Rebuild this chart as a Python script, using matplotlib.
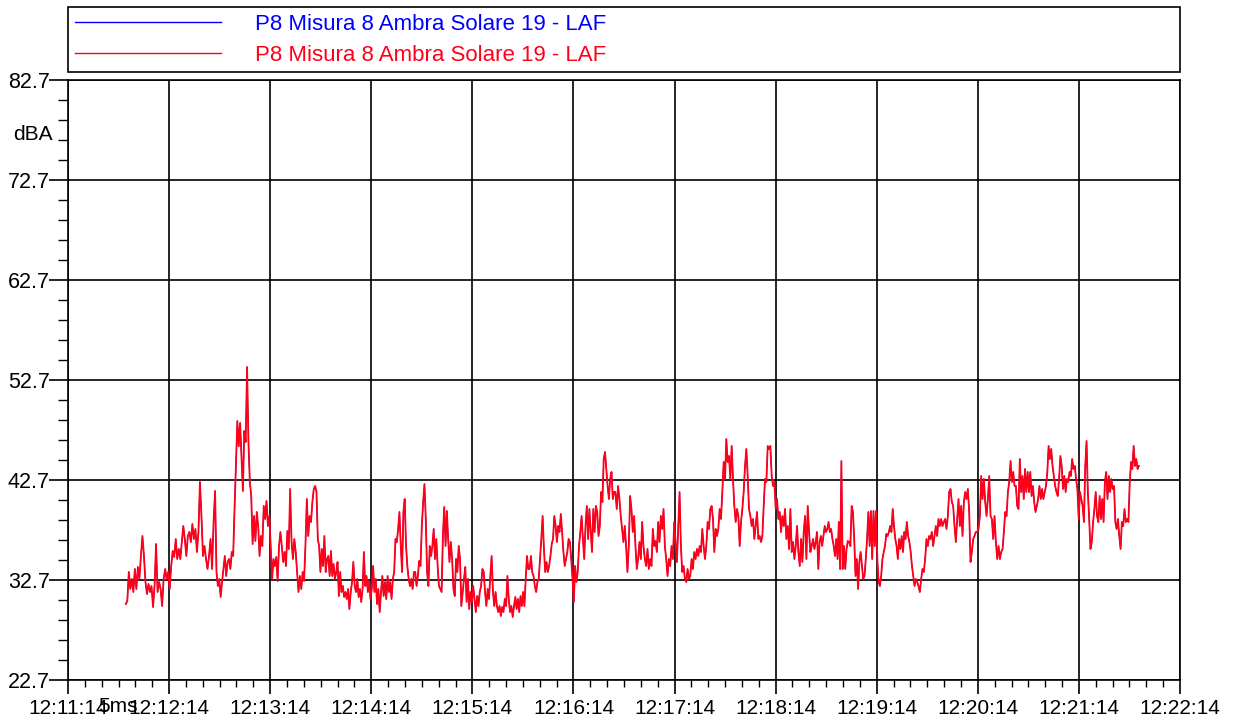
import numpy as np
import pandas as pd
import matplotlib
matplotlib.use("Agg")
import matplotlib.pyplot as plt
import matplotlib.dates as mdates
from matplotlib.ticker import MultipleLocator, FixedLocator

plt.rcParams["font.family"] = ["Liberation Sans", "DejaVu Sans"]

# region Data: LAF level (dBA), one minute-ish segment at a time
day = "2023-06-01 "
seg_edges = ["12:11:48.3", "12:12:41.3", "12:13:40.7", "12:14:40.1", "12:15:39.5",
             "12:16:38.9", "12:17:38.4", "12:18:37.8", "12:19:37.2", "12:20:36.6",
             "12:21:49.6"]

seg_a = [30.3, 30.6, 33.5, 31.8, 32.8, 31.5, 33.8, 31.8, 34.0, 32.8, 35.1, 37.1, 35.1, 32.5,
         31.3, 32.3, 31.5, 32.1, 30.0, 32.1, 36.3, 31.5, 32.5, 31.8, 30.1, 32.8, 33.8, 32.8,
         33.5, 31.8, 34.1, 35.6, 35.0, 36.8, 34.8, 35.8, 34.8, 36.5, 38.1, 36.8, 35.1, 37.1,
         37.5, 36.5, 38.3, 36.8, 37.8, 35.5, 37.5, 42.5, 39.1, 35.1, 36.1, 34.8, 33.8, 35.1,
         36.8, 33.8, 38.5]
seg_b = [41.6, 33.5, 32.1, 32.8, 31.0, 32.5, 33.8, 35.1, 33.1, 34.5, 34.8, 33.8, 35.5, 35.1,
         39.8, 44.1, 48.6, 46.1, 48.4, 45.1, 41.6, 47.6, 46.5, 54.0, 46.5, 42.5, 41.1, 36.3,
         39.1, 36.6, 39.5, 38.1, 35.1, 37.1, 36.1, 40.1, 38.8, 40.6, 38.1, 39.1, 36.1, 32.8,
         34.8, 34.1, 35.0, 32.6, 36.1, 37.5, 36.1, 34.5, 35.5, 34.1, 37.6, 35.8, 41.8, 36.6,
         34.8, 36.8, 35.5, 33.5, 31.5, 33.1, 31.8, 33.5, 32.6, 36.1, 40.8, 37.1, 39.1, 38.5,
         40.5, 41.8]
seg_c = [42.1, 41.5, 36.8, 36.1, 33.5, 35.8, 34.1, 37.1, 33.5, 34.8, 35.1, 33.1, 35.6, 33.1,
         34.3, 32.8, 33.5, 34.5, 31.1, 33.5, 31.5, 32.1, 31.0, 31.5, 30.8, 31.8, 29.8, 31.5,
         32.5, 34.5, 32.1, 31.5, 32.8, 31.0, 31.8, 30.5, 31.8, 35.5, 32.1, 33.1, 31.5, 32.6,
         30.8, 31.8, 34.1, 31.5, 32.8, 30.3, 31.8, 29.5, 31.5, 33.1, 31.1, 32.5, 30.8, 33.1,
         31.5, 32.5, 30.8, 32.8, 33.5, 36.8, 36.5, 37.8, 39.5, 36.1, 33.5, 39.5, 40.8, 36.1,
         34.1, 32.8, 32.1, 32.8, 31.8, 33.5]
seg_d = [33.5, 32.1, 33.1, 34.6, 34.1, 38.1, 40.5, 42.3, 38.8, 33.5, 32.1, 36.1, 35.1, 36.1,
         37.8, 34.8, 36.8, 34.1, 32.1, 31.8, 31.5, 37.1, 40.0, 36.1, 39.6, 36.8, 34.5, 36.5,
         34.8, 31.8, 31.1, 34.8, 33.5, 36.1, 34.8, 30.1, 31.5, 32.8, 34.0, 30.5, 32.8, 29.8,
         31.5, 30.5, 32.1, 30.8, 29.5, 31.1, 30.1, 31.5, 32.1, 33.8, 33.5, 31.5, 30.1, 31.8,
         30.8, 33.1, 35.1, 31.5, 30.1, 31.5, 30.1, 29.5, 30.1, 29.1, 30.0, 29.5, 30.8, 30.1,
         33.1, 30.8, 29.5, 30.1, 29.0, 30.1]
seg_e = [31.0, 29.8, 30.8, 29.5, 31.1, 30.1, 31.5, 30.1, 32.8, 35.1, 33.8, 33.8, 35.1, 33.5,
         33.1, 32.1, 31.5, 32.5, 32.8, 34.8, 36.8, 39.1, 35.8, 33.5, 34.5, 33.5, 34.1, 35.1,
         36.3, 36.8, 39.1, 38.1, 36.5, 38.1, 37.5, 39.3, 37.5, 35.5, 34.1, 34.8, 35.5, 36.8,
         36.5, 34.8, 32.8, 30.5, 34.1, 32.5, 33.5, 36.1, 37.5, 39.1, 36.8, 34.8, 38.1, 40.1,
         36.8, 39.8, 37.5, 35.5, 39.8, 37.5, 40.1, 39.5, 37.1, 38.1, 41.5, 40.5, 44.8, 45.5,
         43.8, 42.1, 40.8, 42.8, 43.5, 40.8, 41.5]
seg_f = [41.5, 39.8, 42.1, 40.8, 39.1, 37.8, 36.5, 38.1, 36.1, 33.5, 36.1, 41.1, 39.8, 37.5,
         39.1, 36.1, 33.8, 34.8, 36.5, 34.8, 38.5, 36.1, 34.8, 34.1, 35.8, 33.8, 34.8, 34.1,
         37.8, 36.1, 36.6, 35.5, 38.5, 36.5, 39.1, 37.8, 39.8, 36.1, 34.8, 33.1, 34.8, 34.1,
         36.1, 34.8, 38.5, 36.5, 34.5, 38.1, 41.5, 36.1, 33.5, 34.1, 32.8, 32.5, 33.8, 32.8,
         33.1, 34.8, 33.8, 35.5, 34.8, 35.8, 35.1, 36.1, 35.5, 37.8, 36.1, 34.8, 36.1, 38.5,
         37.8, 39.8, 40.1, 38.8, 35.5]
seg_g = [37.8, 37.1, 37.8, 39.8, 38.8, 41.5, 44.5, 42.8, 46.8, 44.5, 45.1, 42.8, 46.1, 42.8,
         40.1, 38.5, 39.8, 39.1, 36.1, 38.5, 39.8, 41.5, 44.1, 45.8, 43.1, 39.8, 39.1, 38.1,
         38.8, 36.8, 38.1, 39.5, 36.8, 37.1, 36.5, 37.1, 40.1, 42.8, 42.5, 46.1, 45.8, 46.1,
         43.1, 42.1, 42.5, 39.8, 40.8, 38.8, 39.5, 37.5, 39.1, 38.1, 39.8, 36.8, 38.1, 35.8,
         39.8, 35.5, 36.5, 34.8, 36.1, 38.1, 35.5, 34.1, 36.8, 34.5, 37.5, 39.1, 34.8, 40.1,
         37.5, 35.5, 36.1, 36.8, 35.8]
seg_h = [36.5, 37.5, 33.8, 36.5, 37.1, 36.1, 37.1, 38.1, 37.5, 37.8, 38.5, 37.5, 37.8, 36.8,
         36.1, 35.1, 36.8, 34.8, 38.5, 33.8, 44.6, 33.8, 36.1, 33.8, 35.8, 36.6, 36.5, 36.1,
         40.1, 39.5, 36.8, 33.1, 34.8, 31.8, 34.5, 35.5, 34.1, 32.8, 33.1, 34.8, 36.8, 39.5,
         36.1, 39.6, 34.8, 39.6, 36.1, 39.6, 34.8, 32.5, 32.1, 33.1, 34.8, 35.5, 36.1, 37.3,
         37.1, 37.5, 38.1, 37.5, 39.8, 38.1, 36.8, 36.1, 34.8, 36.8, 35.8, 37.1, 35.5, 37.5,
         36.8, 38.5, 37.1, 36.5, 35.5, 34.1, 33.1, 32.1]
seg_i = [32.8, 32.5, 32.1, 31.5, 32.8, 33.8, 33.5, 34.8, 36.8, 36.1, 37.1, 36.8, 37.5, 36.1,
         37.1, 38.1, 37.1, 38.8, 38.1, 38.8, 38.1, 38.5, 38.8, 37.8, 39.1, 41.5, 41.8, 40.5,
         40.1, 38.1, 36.5, 38.8, 40.8, 38.1, 40.1, 37.1, 40.5, 41.5, 40.8, 41.8, 39.5, 34.5,
         35.5, 36.8, 37.1, 37.5, 37.5, 37.8, 39.1, 43.1, 40.8, 42.8, 40.5, 39.1, 40.8, 43.1,
         39.1, 38.8, 36.8, 39.1, 36.5, 34.8, 36.1, 34.8, 35.5, 35.8, 37.5, 39.5, 39.1, 41.5,
         42.5, 44.6, 42.5, 43.5, 42.1]
seg_j = [42.1, 40.1, 39.8, 44.8, 41.5, 43.1, 40.8, 43.8, 41.5, 43.5, 41.5, 43.5, 41.1, 42.1,
         40.5, 39.5, 40.1, 40.8, 42.1, 40.8, 41.8, 40.8, 41.5, 42.1, 43.5, 46.1, 44.8, 45.8,
         44.1, 43.1, 42.1, 41.5, 41.1, 42.8, 45.1, 44.1, 41.8, 43.1, 41.5, 42.8, 42.5, 43.5,
         43.1, 44.8, 43.8, 44.1, 42.8, 41.8, 38.8, 41.5, 40.8, 40.1, 38.5, 44.1, 46.6, 41.5,
         38.8, 35.8, 36.5, 38.5, 39.8, 41.5, 39.1, 38.5, 41.1, 38.8, 40.8, 38.5, 42.5, 43.5,
         40.8, 43.1, 41.5, 42.8, 41.8, 42.1, 38.5, 37.8, 38.8, 37.1, 35.8, 38.5, 38.1, 39.8,
         38.5, 38.8, 38.5, 42.5, 44.5, 43.8, 46.1, 44.1, 44.8, 43.8, 44.1]

segments = [seg_a, seg_b, seg_c, seg_d, seg_e, seg_f, seg_g, seg_h, seg_i, seg_j]

x_start, x_end = "12:11:14", "12:22:14"
y_ticks = [22.7, 32.7, 42.7, 52.7, 62.7, 72.7, 82.7]
series_label = "P8 Misura 8 Ambra Solare 19 - LAF"
# endregion

edges = mdates.date2num(pd.to_datetime([day + s for s in seg_edges]))
times = []
for i, seg in enumerate(segments):
    last = i == len(segments) - 1
    times.append(np.linspace(edges[i], edges[i + 1], len(seg), endpoint=last))
times = np.concatenate(times)
levels = np.concatenate(segments)

fig = plt.figure(figsize=(12.36, 7.2), dpi=100)
ax = fig.add_axes([68 / 1236, 40 / 720, 1112 / 1236, 600 / 720])

# blue trace sits under the red one (same values)
blue, = ax.plot(times, levels, color="#0000ff", lw=0.7, label=series_label)
red, = ax.plot(times, levels, color="#ff0018", lw=1.3, label=series_label)

ax.set_xlim(mdates.date2num(pd.to_datetime(day + x_start)),
            mdates.date2num(pd.to_datetime(day + x_end)))
ax.set_ylim(y_ticks[0], y_ticks[-1])

ax.xaxis.set_major_locator(mdates.SecondLocator(bysecond=[14]))
ax.xaxis.set_minor_locator(mdates.SecondLocator(bysecond=[4, 24, 34, 44, 54]))
ax.xaxis.set_major_formatter(mdates.DateFormatter("%H:%M:%S"))
ax.yaxis.set_major_locator(FixedLocator(y_ticks))
ax.yaxis.set_minor_locator(MultipleLocator(2, offset=0.7))
ax.yaxis.set_major_formatter(lambda v, p: f"{v:.1f}")

ax.grid(True, which="major", color="black", lw=1.2)
for s in ax.spines.values():
    s.set_color("black")
    s.set_linewidth(1.2)
ax.tick_params(axis="x", which="major", length=10, width=1.2, pad=4, labelsize=15)
ax.tick_params(axis="x", which="minor", length=5, width=1.0)
ax.tick_params(axis="y", which="major", length=14, width=1.2, pad=-1, labelsize=15.5)
ax.tick_params(axis="y", which="minor", length=7, width=1.0)

ax.text(-0.0135, 0.91, "dBA", transform=ax.transAxes, ha="right", va="center", fontsize=15)
fig.text(98 / 1236, 1 - 706 / 720, "5ms", ha="left", va="center", fontsize=15)

leg = fig.legend(handles=[blue, red], loc="upper left",
                 bbox_to_anchor=(68 / 1236, 1 - 7 / 720, 1112 / 1236, 0.0),
                 mode="expand", borderaxespad=0, fontsize=16, labelcolor="linecolor",
                 handlelength=6.6, handletextpad=1.5, borderpad=0.3, labelspacing=0.45,
                 fancybox=False, edgecolor="black", framealpha=1)
leg.get_frame().set_linewidth(1.2)
for h in leg.legend_handles:
    h.set_linewidth(1.0)

fig.savefig("out.png", dpi=100)
